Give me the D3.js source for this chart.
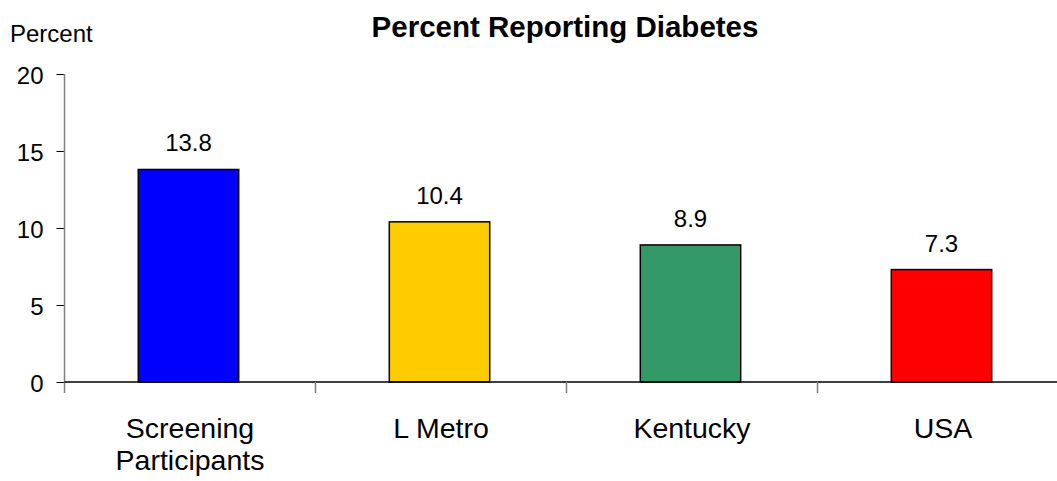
<!DOCTYPE html>
<html><head><meta charset="utf-8">
<script src="https://cdn.jsdelivr.net/npm/d3@7"></script>
<style>body{margin:0;background:#fff}svg{display:block}text{font-family:"Liberation Sans",Arial,sans-serif;fill:#000}</style>
</head><body><svg id="c" width="1057" height="481"></svg>
<script>
const categories = ["Screening Participants", "L Metro", "Kentucky", "USA"];
const values = [13.8, 10.4, 8.9, 7.3];
const colors = ["#0000ff", "#ffcc00", "#339966", "#ff0000"];
const yTicks = [0, 5, 10, 15, 20];
const title = "Percent Reporting Diabetes";
const yLabel = "Percent";

const svg = d3.select("#c");
const x0 = 64.5, x1 = 1068.5, yTop = 74, yBot = 382;
const x = d3.scaleBand().domain(categories).range([x0, x1]).paddingInner(0.6).paddingOuter(0.3);
const y = d3.scaleLinear().domain([0, 20]).range([yBot, yTop]);

svg.append("text").attr("x", 565).attr("y", 37).attr("text-anchor", "middle")
  .attr("font-size", 29.5).attr("font-weight", "bold").text(title);
svg.append("text").attr("x", 10).attr("y", 42).attr("font-size", 24).text(yLabel);

// bars
svg.selectAll("rect.bar").data(values).enter().append("rect")
  .attr("x", (d, i) => x(categories[i]) - 1.5)
  .attr("width", x.bandwidth())
  .attr("y", d => y(d))
  .attr("height", d => y(0) - y(d))
  .attr("fill", (d, i) => colors[i])
  .attr("stroke", "#000").attr("stroke-width", 1.5);

// value labels
svg.selectAll("text.val").data(values).enter().append("text")
  .attr("x", (d, i) => x(categories[i]) - 1.5 + x.bandwidth() / 2)
  .attr("y", d => y(d) - 18)
  .attr("text-anchor", "middle").attr("font-size", 24)
  .text(d => d.toFixed(1));

// y axis
const yAxis = svg.append("g").attr("transform", `translate(${x0},0)`)
  .call(d3.axisLeft(y).tickValues(yTicks).tickSize(8).tickPadding(13));
yAxis.select(".domain").remove();
yAxis.selectAll(".tick line").attr("stroke", "#000");
yAxis.selectAll(".tick text").attr("font-size", 24).attr("dy", "0.4em")
  .attr("font-family", "Liberation Sans, Arial, sans-serif").attr("fill", "#000");
svg.append("line").attr("x1", x0).attr("x2", x0).attr("y1", yTop).attr("y2", yBot + 11)
  .attr("stroke", "#808080").attr("stroke-width", 1.5);

// x axis
svg.append("line").attr("x1", x0).attr("x2", 1057).attr("y1", yBot).attr("y2", yBot)
  .attr("stroke", "#000").attr("stroke-width", 1.5);
const step = x.step();
categories.slice(1).forEach((c, i) => {
  const xt = x0 + step * (i + 1);
  svg.append("line").attr("x1", xt).attr("x2", xt).attr("y1", yBot).attr("y2", yBot + 11)
    .attr("stroke", "#808080").attr("stroke-width", 1.5);
});

// category labels
categories.forEach((c, i) => {
  const cx = x(c) + x.bandwidth() / 2;
  const parts = c === "Screening Participants" ? ["Screening", "Participants"] : [c];
  parts.forEach((p, j) => {
    svg.append("text").attr("x", cx).attr("y", 438 + j * 32)
      .attr("text-anchor", "middle").attr("font-size", 28.5).text(p);
  });
});
</script></body></html>
